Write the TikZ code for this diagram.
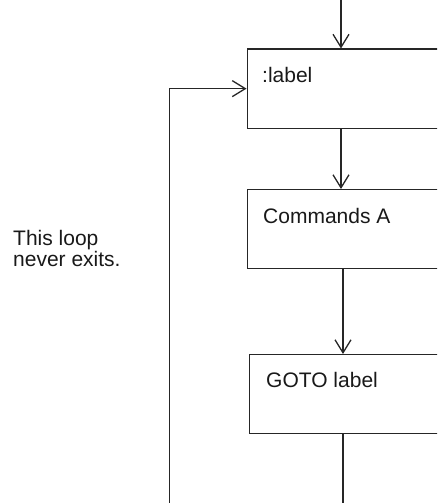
\documentclass[tikz,border=0pt]{standalone}
\usepackage{fontspec}
\setmainfont{Liberation Sans}
\usetikzlibrary{arrows.meta}
\begin{document}
\begin{tikzpicture}[x=1pt,y=-1pt,
  flow/.style={draw=black!85, line width=1.3pt},
  tip/.style={-{Straight Barb[length=13pt,width=16pt,line width=1.3pt]}},
  stepbox/.style={draw=black!85, line width=1.3pt, rectangle, inner sep=0pt,
    minimum width=240pt, minimum height=79pt, anchor=north west},
  boxtext/.style={anchor=west, inner sep=0pt, text=black!90,
    font=\fontsize{21}{22}\selectfont},
  note/.style={anchor=north west, inner sep=0pt, align=left, text=black!90,
    font=\fontsize{21}{21.5}\selectfont}]
  \useasboundingbox (0,0) rectangle (437,503);
  \clip (0,0) rectangle (437,503);

  % flowchart boxes
  \node[stepbox] (b1) at (246.5,48.5) {};
  \node[stepbox] (b2) at (246.5,189) {};
  \node[stepbox] (b3) at (249,354) {};

  \node[boxtext] (t1) at (262,75) {:label};
  \node[boxtext] (t2) at (263,215.5) {Commands A};
  \node[boxtext] (t3) at (266,380) {GOTO label};

  \node[note] (n1) at (13,230) {This loop\\never exits.};

  % main spine and loop-back path
  \coordinate (spine) at (341,0);
  \coordinate (spineb) at (343,0);
  \coordinate (entry) at (341,-20);
  \coordinate (lowleft) at (169.5,540);

  \draw[flow,tip] (entry) -- (b1.north -| spine);
  \draw[flow,tip] (b1.south -| spine) -- (b2.north -| spine);
  \draw[flow,tip] (b2.south -| spineb) -- (b3.north -| spineb);
  \draw[flow,tip] (b3.south -| spineb) |- (lowleft) |- (b1.west);
\end{tikzpicture}
\end{document}
